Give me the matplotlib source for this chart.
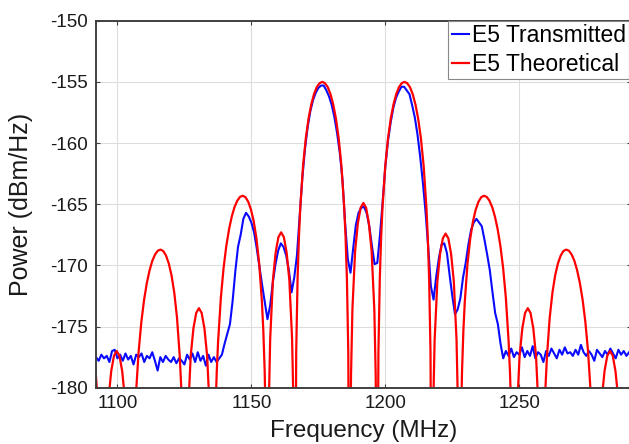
import numpy as np
import matplotlib
matplotlib.use("Agg")
import matplotlib.pyplot as plt

plt.rcParams['font.family'] = ['Liberation Sans', 'DejaVu Sans']
plt.rcParams['axes.unicode_minus'] = False

# E5 theoretical spectrum, points (MHz, dBm/Hz)
theo_freq = [
    1090.52, 1091.54, 1092.56, 1093.08, 1093.59, 1094.10, 1094.61,
    1094.87, 1095.13, 1095.64, 1096.66, 1097.68, 1098.71, 1099.73, 1100.75, 1101.78, 1102.80, 1103.82, 1104.33, 1104.58, 1104.84,
    1105.35, 1105.86, 1106.37, 1106.89, 1107.91, 1108.93, 1109.95, 1110.98, 1112.00, 1113.02, 1114.05, 1115.07,
    1116.09, 1117.12, 1118.14, 1119.16, 1120.19, 1121.21, 1122.23, 1123.25, 1123.77, 1124.28, 1124.79, 1125.30,
    1125.56, 1125.82, 1126.33, 1127.35, 1128.37, 1129.40, 1130.42, 1131.44, 1132.47, 1133.49, 1134.51, 1135.02, 1135.27, 1135.53,
    1136.04, 1136.55, 1137.06, 1137.58, 1138.60, 1139.62, 1140.64, 1141.67, 1142.69, 1143.71, 1144.74, 1145.76,
    1146.78, 1147.81, 1148.83, 1149.85, 1150.88, 1151.90, 1152.92, 1153.94, 1154.46, 1154.97, 1155.48, 1155.99,
    1156.25, 1156.51, 1157.02, 1158.04, 1159.06, 1160.09, 1161.11, 1162.12, 1163.15, 1164.17, 1165.19, 1165.70, 1165.96, 1166.22,
    1166.73, 1167.24, 1167.75, 1168.27, 1169.29, 1170.31, 1171.33, 1172.36, 1173.38, 1174.40, 1175.43, 1176.45,
    1177.47, 1178.50, 1179.52, 1180.54, 1181.57, 1182.59, 1183.61, 1184.63, 1185.15, 1185.66, 1186.17, 1186.68,
    1186.94, 1187.20, 1187.71, 1188.73, 1189.75, 1190.78, 1191.80, 1192.82, 1193.85, 1194.87, 1195.89, 1196.40, 1196.65, 1196.91,
    1197.42, 1197.93, 1198.44, 1198.96, 1199.98, 1201.00, 1202.02, 1203.05, 1204.07, 1205.09, 1206.12, 1207.14,
    1208.16, 1209.19, 1210.21, 1211.23, 1212.26, 1213.28, 1214.30, 1215.32, 1215.84, 1216.35, 1216.86, 1217.37,
    1217.63, 1217.89, 1218.40, 1219.42, 1220.44, 1221.47, 1222.49, 1223.51, 1224.54, 1225.56, 1226.58, 1227.09, 1227.34, 1227.60,
    1228.11, 1228.62, 1229.13, 1229.65, 1230.67, 1231.69, 1232.71, 1233.74, 1234.76, 1235.78, 1236.81, 1237.83,
    1238.85, 1239.88, 1240.90, 1241.92, 1242.95, 1243.97, 1244.99, 1246.01, 1246.53, 1247.04, 1247.55, 1248.06,
    1248.32, 1248.58, 1249.09, 1250.11, 1251.13, 1252.16, 1253.18, 1254.20, 1255.23, 1256.25, 1257.27, 1257.78, 1258.03, 1258.29,
    1258.80, 1259.31, 1259.82, 1260.34, 1261.36, 1262.38, 1263.40, 1264.43, 1265.45, 1266.47, 1267.50, 1268.52,
    1269.54, 1270.57, 1271.59, 1272.61, 1273.64, 1274.66, 1275.68, 1276.70, 1277.22, 1277.73, 1278.24, 1278.75,
    1279.01, 1279.26, 1279.77, 1280.80, 1281.82, 1282.84, 1283.87, 1284.89, 1285.91, 1286.94, 1287.96, 1288.47, 1288.72, 1288.98,
    1289.49, 1290.00, 1290.51, 1291.03, 1292.05,
]
theo_db = [
    -175.6, -177.7, -180.8, -183.3, -186.5, -192.4, -200.0,
    -197.0, -191.0, -185.7, -180.9, -178.65, -177.39, -177.0, -177.39, -178.65, -180.9, -185.7, -191.0, -197.0, -200.0,
    -192.8, -186.7, -183.15, -180.6, -177.06, -174.62, -172.81, -171.44, -170.4, -169.63, -169.11, -168.8,
    -168.71, -168.83, -169.2, -169.84, -170.81, -172.22, -174.26, -177.4, -179.75, -183.1, -189.0, -200.0,
    -193.5, -187.5, -182.2, -177.4, -175.15, -173.89, -173.5, -173.89, -175.15, -177.4, -182.2, -187.5, -193.5, -200.0,
    -188.4, -182.3, -178.75, -176.2, -172.66, -170.22, -168.41, -167.04, -166.0, -165.23, -164.71, -164.4,
    -164.31, -164.43, -164.8, -165.44, -166.41, -167.82, -169.86, -173.0, -175.35, -178.7, -184.6, -200.0,
    -187.3, -181.3, -176.0, -171.2, -168.95, -167.69, -167.3, -167.69, -168.95, -171.2, -176.0, -181.3, -187.3, -200.0,
    -177.1, -171.1, -167.65, -165.2, -161.86, -159.62, -158.01, -156.84, -156.0, -155.43, -155.11, -155.0,
    -155.11, -155.43, -156.0, -156.84, -158.01, -159.62, -161.86, -165.2, -167.65, -171.1, -177.1, -200.0,
    -184.9, -178.9, -173.6, -168.8, -166.55, -165.29, -164.9, -165.29, -166.55, -168.8, -173.6, -178.9, -184.9, -200.0,
    -177.1, -171.1, -167.65, -165.2, -161.86, -159.62, -158.01, -156.84, -156.0, -155.43, -155.11, -155.0,
    -155.11, -155.43, -156.0, -156.84, -158.01, -159.62, -161.86, -165.2, -167.65, -171.1, -177.1, -200.0,
    -187.4, -181.4, -176.1, -171.3, -169.05, -167.79, -167.4, -167.79, -169.05, -171.3, -176.1, -181.4, -187.4, -200.0,
    -184.6, -178.7, -175.35, -173.0, -169.86, -167.82, -166.41, -165.44, -164.8, -164.43, -164.31, -164.4,
    -164.71, -165.23, -166.0, -167.04, -168.41, -170.22, -172.66, -176.2, -178.75, -182.3, -188.4, -200.0,
    -193.5, -187.5, -182.2, -177.4, -175.15, -173.89, -173.5, -173.89, -175.15, -177.4, -182.2, -187.5, -193.5, -200.0,
    -189.0, -183.1, -179.75, -177.4, -174.26, -172.22, -170.81, -169.84, -169.2, -168.83, -168.71, -168.8,
    -169.11, -169.63, -170.4, -171.44, -172.81, -174.62, -177.06, -180.6, -183.15, -186.7, -192.8, -200.0,
    -197.0, -191.0, -185.7, -180.9, -178.65, -177.39, -177.0, -177.39, -178.65, -180.9, -185.7, -191.0, -197.0, -200.0,
    -192.4, -186.5, -183.3, -180.8, -177.7,
]

# E5 transmitted (measured), one value per MHz from 1092 to 1291
trans_freq = list(range(1092, 1292))
trans_db = [
    -177.5, -177.8, -177.3, -177.6, -177.4, -177.9, -177.0, -176.9, -177.6, -177.3,
    -177.8, -177.2, -177.7, -177.4, -178.1, -177.3, -177.5, -177.2, -177.9, -177.4,
    -177.6, -177.1, -177.8, -178.6, -177.5, -177.9, -177.4, -177.7, -177.9, -177.5,
    -178.0, -177.6, -177.8, -178.1, -177.3, -177.7, -177.2, -177.9, -177.1, -177.8,
    -177.4, -178.2, -177.3, -177.9, -177.5, -177.9, -177.6, -177.3, -176.4, -175.6,
    -174.8, -172.9, -170.5, -168.5, -167.5, -166.2, -165.7, -166.0, -166.5, -167.3,
    -168.6, -170.1, -171.6, -173.0, -174.4, -173.3, -171.4, -169.9, -168.8, -168.2,
    -168.5, -169.2, -170.4, -172.2, -171.0, -169.2, -166.0, -162.9, -160.5, -158.7,
    -157.4, -156.5, -155.9, -155.5, -155.3, -155.3, -155.7, -156.2, -156.9, -157.9,
    -159.2, -160.8, -163.0, -166.6, -169.5, -170.6, -168.6, -166.7, -165.7, -165.3,
    -165.2, -165.7, -166.8, -168.4, -169.9, -169.8, -167.5, -164.8, -161.9, -159.8,
    -158.3, -157.1, -156.3, -155.8, -155.4, -155.4, -155.7, -156.0, -156.9, -157.9,
    -159.3, -161.1, -163.2, -165.6, -168.5, -171.7, -172.8, -170.9, -169.4, -168.3,
    -168.2, -169.0, -170.8, -172.5, -174.0, -173.6, -172.7, -171.0, -169.8, -168.3,
    -167.1, -166.5, -166.2, -166.5, -166.8, -167.9, -169.1, -170.4, -172.2, -173.9,
    -174.8, -176.4, -177.6, -177.0, -177.4, -176.8, -177.5, -177.1, -177.3, -176.7,
    -177.5, -177.0, -177.4, -176.6, -177.6, -177.1, -177.3, -177.9, -177.0, -177.4,
    -176.8, -177.2, -177.6, -176.9, -177.3, -176.7, -177.2, -177.1, -177.4, -176.9,
    -177.3, -176.5, -177.1, -177.4, -177.0, -177.3, -177.8, -176.9, -177.2, -177.5,
    -177.0, -177.3, -176.8, -177.2, -177.6, -176.9, -177.3, -177.0, -177.4, -177.1,
]

x_ticks = [1100, 1150, 1200, 1250]
y_ticks = [-180, -175, -170, -165, -160, -155, -150]

fig = plt.figure(figsize=(6.29, 4.44), dpi=100)
ax = fig.add_axes([96 / 629, 56.3 / 444, 535 / 629, 367 / 444])

ax.plot(trans_freq, trans_db, color='#0a0aff', linewidth=1.5, label='E5 Transmitted')
ax.plot(theo_freq, theo_db, color='#ff0000', linewidth=1.6, label='E5 Theoretical')

ax.set_xlim(1092, 1291.7)
ax.set_ylim(-180, -150)
ax.set_xticks(x_ticks)
ax.set_yticks(y_ticks)
ax.grid(True, color='#dddddd', linewidth=0.8)
ax.set_axisbelow(True)

for s in ax.spines.values():
    s.set_color('#404040')
    s.set_linewidth(1.4)
ax.tick_params(direction='in', length=3, width=0.8, color='#404040',
               top=True, right=True, labelsize=13.5, labelcolor='#1a1a1a')
ax.tick_params(axis='y', pad=6)
ax.tick_params(axis='x', pad=5)

ax.set_xlabel('Frequency (MHz)', fontsize=17.5, color='#1a1a1a')
ax.set_ylabel('Power (dBm/Hz)', fontsize=18, color='#1a1a1a')
ax.xaxis.set_label_coords(0.5, -0.088)
ax.yaxis.set_label_coords(-0.118, 0.5)

leg = ax.legend(loc='upper left', bbox_to_anchor=(0.6585, 1.0), borderaxespad=0,
                fontsize=16.5, handlelength=0.75, handletextpad=0.15,
                labelspacing=0.25, borderpad=0.14, fancybox=False,
                framealpha=1, edgecolor='#888888')
leg.get_frame().set_linewidth(0.8)

fig.savefig('out.png', dpi=100)
